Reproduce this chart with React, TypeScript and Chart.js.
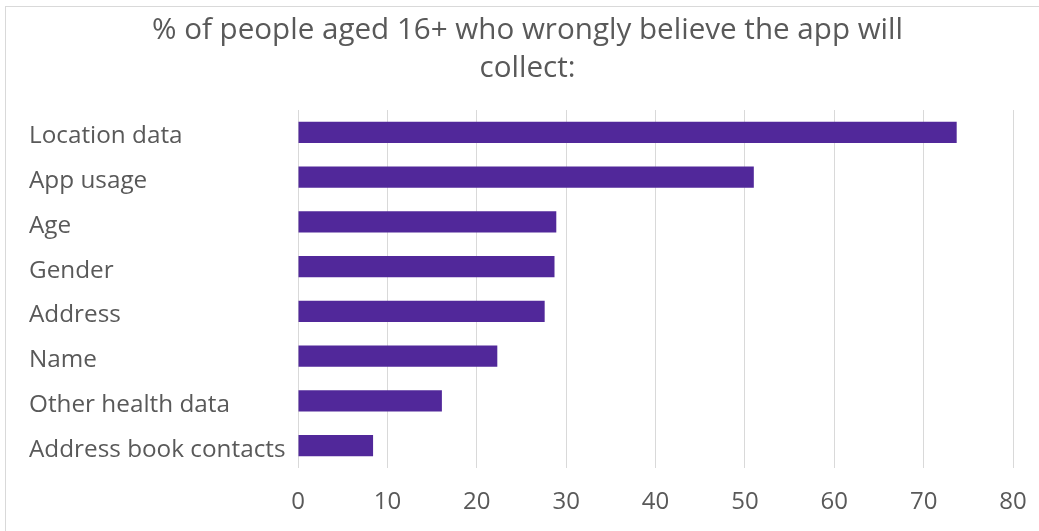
import React, { useEffect, useRef } from "react";
import { Chart, registerables } from "chart.js";

Chart.register(...registerables);

const categories = [
  "Location data",
  "App usage",
  "Age",
  "Gender",
  "Address",
  "Name",
  "Other health data",
  "Address book contacts",
];
const percentages = [73.7, 51.0, 28.9, 28.7, 27.6, 22.3, 16.1, 8.4];
const titleLines = ["% of people aged 16+ who wrongly believe the app will", "collect:"];
const xMin = 0;
const xMax = 80;
const xStep = 10;

const W = 1039;
const H = 531;
const TEXT = "#595959";
const FONT = "'Open Sans', 'DejaVu Sans', sans-serif";

// Two-line heading drawn above the plot area
const headingPlugin = {
  id: "heading",
  afterDraw(chart: any) {
    const ctx = chart.ctx;
    ctx.save();
    ctx.fillStyle = TEXT;
    ctx.font = `29.6px ${FONT}`;
    ctx.textAlign = "center";
    ctx.textBaseline = "alphabetic";
    ctx.fillText(titleLines[0], 527.5, 38.5);
    ctx.fillText(titleLines[1], 527.5, 77);
    ctx.restore();
  },
};

export default function App() {
  const canvasRef = useRef<HTMLCanvasElement | null>(null);

  useEffect(() => {
    if (!canvasRef.current) return;
    const chart = new Chart(canvasRef.current, {
      type: "bar",
      data: {
        labels: categories,
        datasets: [
          {
            data: percentages,
            backgroundColor: "#51289A",
            borderWidth: 0,
            barPercentage: 1,
            categoryPercentage: 0.48,
          },
        ],
      },
      options: {
        indexAxis: "y",
        responsive: false,
        devicePixelRatio: 1,
        animation: false,
        layout: { padding: { left: 29, right: 26, top: 110, bottom: 0 } },
        plugins: {
          legend: { display: false },
          title: { display: false },
          tooltip: { enabled: false },
        },
        scales: {
          x: {
            min: xMin,
            max: xMax,
            ticks: {
              stepSize: xStep,
              color: TEXT,
              font: { family: FONT, size: 24 },
              padding: 19.5,
            },
            grid: { color: "#d9d9d9", lineWidth: 1, drawTicks: false },
            border: { display: false },
            afterFit(scale: any) {
              scale.height = 63;
              scale.paddingLeft = 0;
              scale.paddingRight = 26;
            },
          },
          y: {
            ticks: {
              color: TEXT,
              font: { family: FONT, size: 24.3 },
              crossAlign: "far",
              autoSkip: false,
              labelOffset: 4,
            },
            grid: { display: false, drawTicks: false },
            border: { display: false },
            afterFit(scale: any) {
              scale.width = 269;
            },
          },
        },
      },
      plugins: [headingPlugin],
    });
    return () => chart.destroy();
  }, []);

  return (
    <div
      style={{
        position: "absolute",
        left: 0,
        top: 0,
        width: W,
        height: H,
        overflow: "hidden",
        background: "#ffffff",
      }}
    >
      <div
        style={{
          position: "absolute",
          left: 5,
          top: 6,
          width: W + 40,
          height: H + 40,
          border: "1px solid #d9d9d9",
          boxSizing: "border-box",
        }}
      />
      <canvas
        ref={canvasRef}
        width={W}
        height={H}
        style={{ position: "absolute", left: 0, top: 0, width: W, height: H }}
      />
    </div>
  );
}
